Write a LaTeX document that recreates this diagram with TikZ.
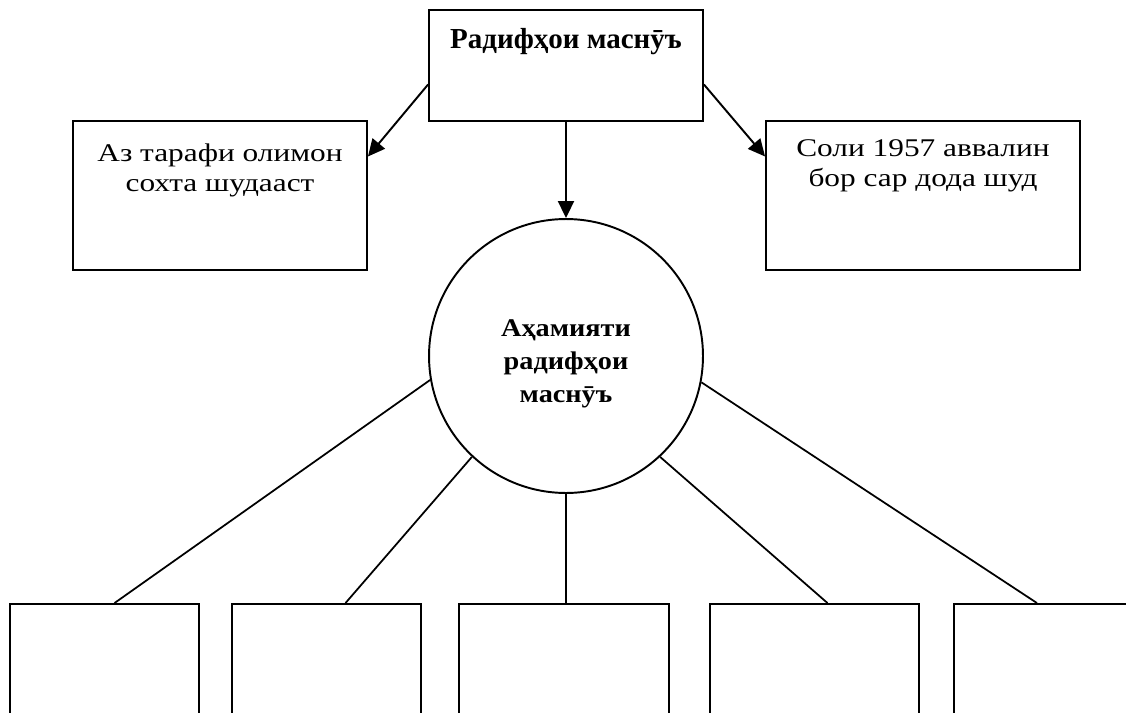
\documentclass[tikz,border=0pt]{standalone}
\usepackage{fontspec}
\setmainfont{Liberation Serif}
\newfontfamily\widefont[FakeStretch=1.23]{Liberation Serif}
\newfontfamily\roundfont[FakeStretch=1.11]{Liberation Serif}
\usetikzlibrary{calc,arrows.meta}
\tikzset{
	box/.style={draw, line width=1.1pt, inner sep=0pt},
	plain/.style={align=center, font=\widefont\fontsize{14.5}{17}\selectfont},
	heavy/.style={align=center, font=\roundfont\fontsize{14.5}{18.8}\selectfont\bfseries},
	arr/.style={line width=1.1pt, -{Triangle[length=0.34cm,width=0.32cm]}},
	link/.style={line width=1pt}
}

\begin{document}
\begin{tikzpicture}[x=0.02cm, y=-0.02cm]
		%%%%% START %%%%%
		\clip (0, 0) rectangle (1126, 713);
		
		\node[box, minimum width=5.48cm, minimum height=2.22cm] (radif) at (566, 65.5) {};
		\node[font=\fontsize{16.5}{19}\selectfont\bfseries] (radiftxt) at (566, 42) {Радифҳои маснӯъ};
		
		\node[box, minimum width=5.88cm, minimum height=2.98cm] (olimon) at (220, 195.5) {};
		\node[plain] (olimontxt) at (220, 170) {Аз тарафи олимон\\сохта шудааст};
		
		\node[box, minimum width=6.28cm, minimum height=2.98cm] (soli) at (923, 195.5) {};
		\node[plain] (solitxt) at (923, 166) {Соли 1957 аввалин\\бор сар дода шуд};
		
		\node[draw, circle, line width=1.1pt, minimum size=5.48cm] (ahamiyat) at (566, 356) {};
		\node[heavy] (ahamiyattxt) at (566, 364) {Аҳамияти\\радифҳои\\маснӯъ};
		
		% bottom row
		\node[box, minimum width=3.78cm, minimum height=3.12cm] (b1) at (104.5, 682) {};
		\node[box, minimum width=3.78cm, minimum height=3.12cm] (b2) at (326.5, 682) {};
		\node[box, minimum width=4.2cm, minimum height=3.12cm] (b3) at (564, 682) {};
		\node[box, minimum width=4.18cm, minimum height=3.12cm] (b4) at (814.5, 682) {};
		\node[box, minimum width=3.8cm, minimum height=3.12cm] (b5) at (1049, 682) {};
		
		\draw[arr] ($(radif.west)+(0, 19)$) -- ($(olimon.east)+(0, -39)$);
		\draw[arr] ($(radif.east)+(0, 19)$) -- ($(soli.west)+(0, -39)$);
		\draw[arr] (radif.south) -- (ahamiyat.north);
		
		\draw[link] (ahamiyat.190) -- ($(b1.north)+(10, 0)$);
		\draw[link] (ahamiyat.227) -- ($(b2.north)+(19, 0)$);
		\draw[link] (ahamiyat.south) -- (ahamiyat.south |- b3.north);
		\draw[link] (ahamiyat.313) -- ($(b4.north)+(13, 0)$);
		\draw[link] (ahamiyat.349) -- ($(b5.north)+(-12, 0)$);
		
		%%%%% END %%%%%
	\end{tikzpicture}
\end{document}
